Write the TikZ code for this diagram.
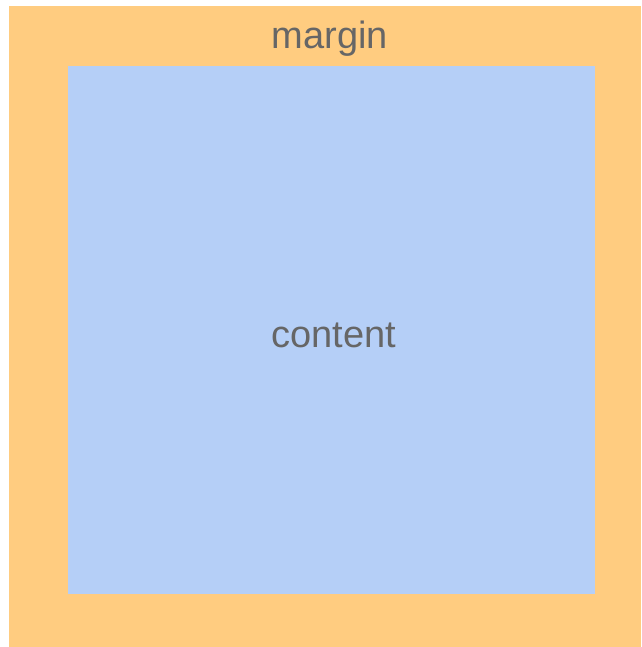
\documentclass[tikz,border=0pt]{standalone}
\usepackage{fontspec}
\setmainfont{Liberation Sans}
\usepackage{xcolor}
\definecolor{vizMargin}{HTML}{FFCC80}
\definecolor{vizContent}{HTML}{B5CFF7}
\definecolor{vizText}{HTML}{666666}
\tikzset{boxlabel/.style={text=vizText, font=\fontsize{38}{40}\selectfont, inner sep=0pt}}

\begin{document}
\begin{tikzpicture}[x=1pt, y=1pt]
  \useasboundingbox (0,0) rectangle (641,647);
  \filldraw[fill=vizMargin, draw=none] (9,0) rectangle (641,641);
  \node[boxlabel] (marginlabel) at (330,608) {margin};
  \filldraw[fill=vizContent, draw=none] (68,53) rectangle (595,581);
  \node[boxlabel] (contentlabel) at (334,312) {content};
\end{tikzpicture}
\end{document}
